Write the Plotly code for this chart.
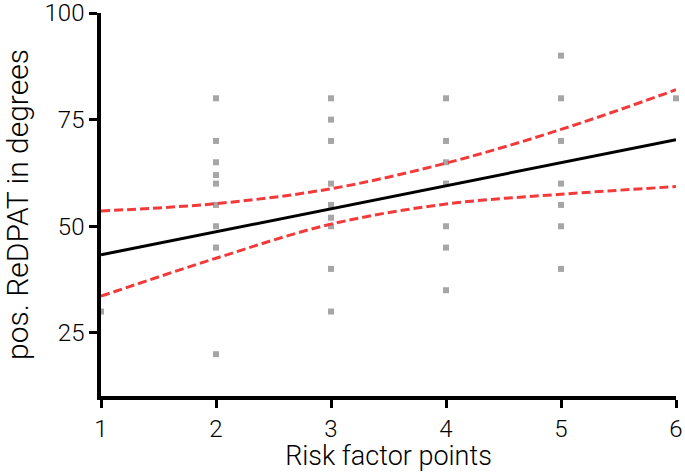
import plotly.graph_objects as go

# Scatter data (risk factor points vs pos. ReDPAT in degrees)
x_pts = [1] + [2]*9 + [3]*9 + [4]*7 + [5]*7 + [6]
y_pts = [30,
         80, 70, 65, 62, 60, 55, 50, 45, 20,
         80, 75, 70, 60, 55, 52, 50, 40, 30,
         80, 70, 65, 60, 50, 45, 35,
         90, 80, 70, 60, 55, 50, 40,
         80]

# Regression line and 95% CI band
fit_x = [1, 6]
fit_y = [43.3, 70.3]
ci_x = [1, 2, 3, 4, 5, 6]
ci_upper = [53.6, 55.3, 58.8, 64.8, 72.7, 82.0]
ci_lower = [33.6, 42.5, 50.5, 55.2, 57.5, 59.3]

x_ticks = [1, 2, 3, 4, 5, 6]
y_ticks = [25, 50, 75, 100]

FONT = "Roboto, Liberation Sans, Arial, sans-serif"

fig = go.Figure()
fig.add_trace(go.Scatter(x=x_pts, y=y_pts, mode="markers",
                         marker=dict(symbol="square", size=6, color="#a6a6a6"),
                         cliponaxis=False, showlegend=False))
fig.add_trace(go.Scatter(x=ci_x, y=ci_upper, mode="lines",
                         line=dict(color="#f23a3a", width=3, dash="9px,4px", shape="spline"),
                         showlegend=False))
fig.add_trace(go.Scatter(x=ci_x, y=ci_lower, mode="lines",
                         line=dict(color="#f23a3a", width=3, dash="9px,4px", shape="spline"),
                         showlegend=False))
fig.add_trace(go.Scatter(x=fit_x, y=fit_y, mode="lines",
                         line=dict(color="black", width=3),
                         showlegend=False))

fig.update_layout(
    width=685, height=472,
    margin=dict(l=101, r=9, t=13, b=76),
    plot_bgcolor="white", paper_bgcolor="white",
    font=dict(family=FONT, size=24, color="black", weight=300),
    xaxis=dict(range=[1, 6], tickvals=x_ticks, showgrid=False, zeroline=False,
               showline=True, linecolor="black", linewidth=3.5, automargin=False,
               ticks="outside", ticklen=8, tickwidth=3, tickcolor="black",
               tickfont=dict(size=24, weight=300), ticklabeloverflow="allow",
               title=dict(text="Risk factor points", font=dict(size=27, weight=300), standoff=8)),
    yaxis=dict(range=[10.2, 100], tickvals=y_ticks, showgrid=False, zeroline=False,
               showline=True, linecolor="black", linewidth=3.5, automargin=False,
               ticks="outside", ticklen=8, tickwidth=3, tickcolor="black",
               tickfont=dict(size=24, weight=300), ticklabeloverflow="allow",
               title=dict(text="pos. ReDPAT in degrees", font=dict(size=30, weight=300), standoff=12)),
)

fig.write_html("out.html", config={"displayModeBar": False},
               post_script="document.body.style.margin='0px';")
